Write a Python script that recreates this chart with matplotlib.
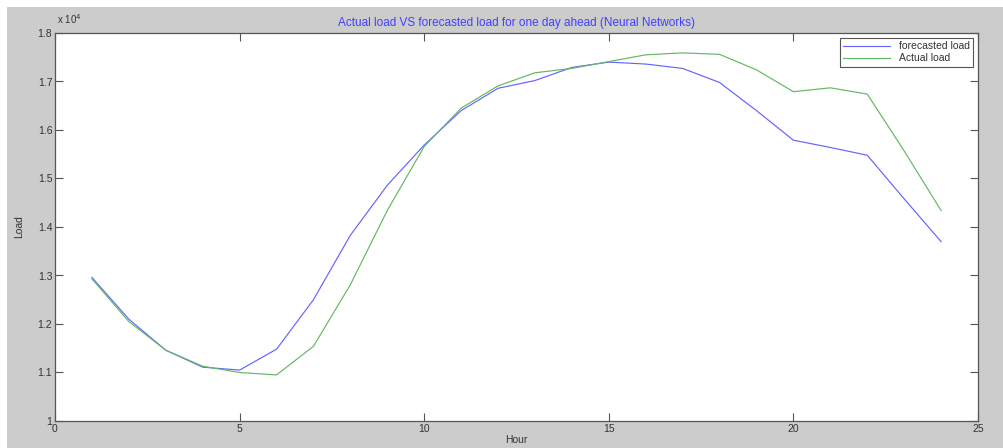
import numpy as np
import matplotlib
matplotlib.use("Agg")
import matplotlib.pyplot as plt
from matplotlib.patches import Rectangle

plt.rcParams['font.family'] = ['Liberation Sans', 'DejaVu Sans']

# hourly load, units of 1e4
hours = np.arange(1, 25)
forecast = [1.296, 1.210, 1.146, 1.111, 1.105, 1.148, 1.250, 1.383, 1.486, 1.569,
            1.640, 1.686, 1.702, 1.729, 1.740, 1.736, 1.727, 1.698, 1.640, 1.579,
            1.564, 1.548, 1.458, 1.370]
actual = [1.293, 1.205, 1.146, 1.113, 1.100, 1.095, 1.154, 1.281, 1.434, 1.566,
          1.645, 1.691, 1.718, 1.727, 1.741, 1.755, 1.759, 1.756, 1.724, 1.679,
          1.687, 1.674, 1.557, 1.434]
yticks = [1.0, 1.1, 1.2, 1.3, 1.4, 1.5, 1.6, 1.7, 1.8]
ytick_labels = ['1', '1.1', '1.2', '1.3', '1.4', '1.5', '1.6', '1.7', '1.8']
xticks = [0, 5, 10, 15, 20, 25]

fig = plt.figure(figsize=(10.04, 4.48), dpi=100, facecolor='white')
# grey MATLAB figure background, offset by the screenshot border
fig.patches.append(Rectangle((7 / 1004, 0), 1, 1 - 7 / 448, transform=fig.transFigure,
                             facecolor='#cccccc', edgecolor='none', zorder=-5))

ax = fig.add_axes([55 / 1004, 1 - 421 / 448, (978 - 55) / 1004, (421 - 33) / 448])
ax.set_zorder(2)
ax.plot(hours, forecast, color='#6464ff', lw=0.85, label='forecasted load')
ax.plot(hours, actual, color='#62b862', lw=0.85, label='Actual load')

ax.set_xlim(0, 25)
ax.set_ylim(1.0, 1.8)
ax.set_xticks(xticks)
ax.set_yticks(yticks)
ax.set_yticklabels(ytick_labels)
ax.tick_params(direction='in', length=6, width=0.8, top=True, right=True,
               labelsize=7.5, labelcolor='#333333', color='#555555', pad=2)
for s in ax.spines.values():
    s.set_color('#555555')
    s.set_linewidth(0.9)

ax.set_title('Actual load VS forecasted load for one day ahead (Neural Networks)',
             color='#4040ff', fontsize=8.5, pad=5)
ax.set_xlabel('Hour', fontsize=7.5, color='#333333', labelpad=1)
ax.set_ylabel('Load', fontsize=7.5, color='#333333', labelpad=10)
fig.text(57 / 1004, 1 - 24 / 448, r'x 10$^4$', fontsize=7, color='#333333',
         ha='left', va='baseline', zorder=3)

leg = ax.legend(loc='upper right', fontsize=7.5, fancybox=False, framealpha=1,
                edgecolor='#555555', borderaxespad=0.5, handlelength=4.5,
                borderpad=0.3, labelspacing=0.2)
leg.get_frame().set_linewidth(0.8)
for t in leg.get_texts():
    t.set_color('#333333')

fig.savefig('out.png', dpi=100, facecolor=fig.get_facecolor())
